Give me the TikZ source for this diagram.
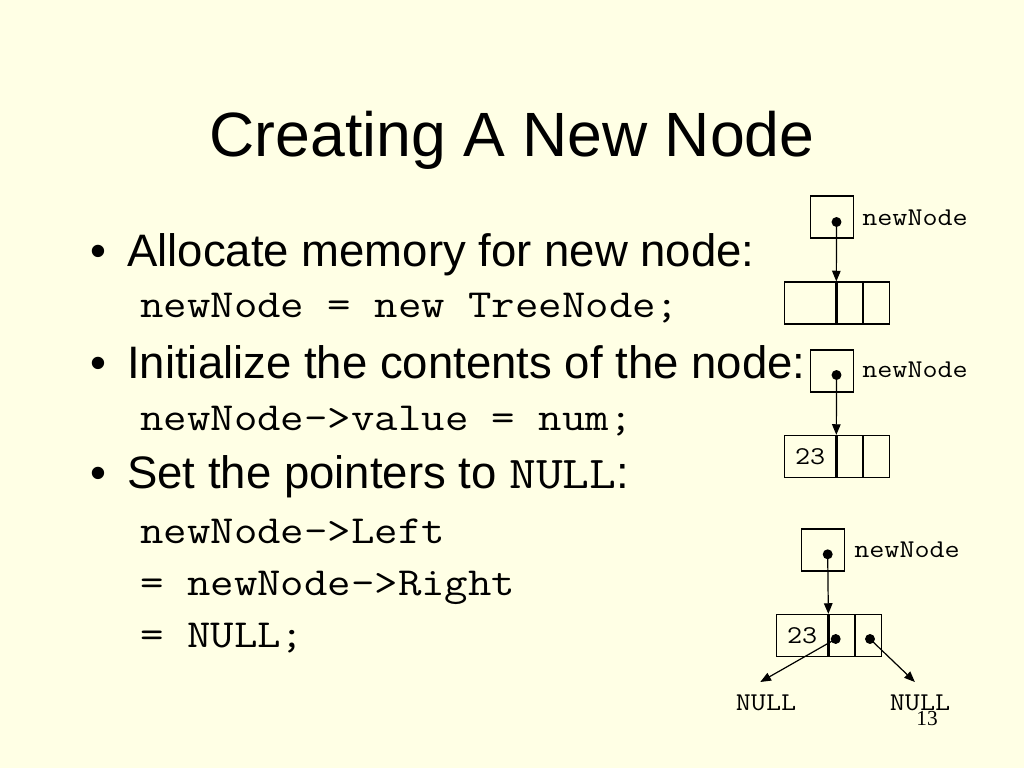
\documentclass[tikz,border=0pt]{standalone}
\usepackage{fontspec}
\setmainfont{Liberation Sans}
\newfontfamily\codefont[FakeStretch=1.143]{Latin Modern Mono}
\newfontfamily\numfont{Liberation Serif}
\usepackage{tikz}
\usetikzlibrary{arrows.meta}
\definecolor{slidebg}{RGB}{255,255,229}
\tikzstyle{ptrbox} = [draw, line width=0.85pt, minimum width=30.2pt, minimum height=29.5pt, inner sep=0pt]
\tikzstyle{bigcell} = [draw, line width=0.85pt, minimum width=35.9pt, minimum height=29.5pt, inner sep=0pt, font=\codefont\fontsize{18}{20}\selectfont]
\tikzstyle{cell} = [draw, line width=0.85pt, minimum width=18pt, minimum height=29.5pt, inner sep=0pt, anchor=west]
\tikzstyle{dot} = [circle, fill=black, minimum size=7pt, inner sep=0pt]
\tikzstyle{arrow} = [line width=0.85pt, -{Triangle[length=7.5pt, width=6pt]}]
\tikzstyle{varname} = [font=\codefont\fontsize{18}{20}\selectfont, inner sep=0pt, anchor=west]
\tikzstyle{heading} = [font=\fontsize{44}{50}\selectfont, anchor=base]
\tikzstyle{bullet} = [font=\fontsize{32}{38}\selectfont, anchor=base west, inner sep=0pt]
\tikzstyle{code} = [font=\codefont\fontsize{28}{32}\selectfont, anchor=base west, inner sep=0pt]

\begin{document}
\begin{tikzpicture}[x=0.703125pt, y=-0.703125pt]
	\fill[slidebg] (0,0) rectangle (1024,768);
	\useasboundingbox (0,0) rectangle (1024,768);

	\node[heading](title) at (512,157){Creating A New Node};

	\node[bullet](m1) at (90,267){•};
	\node[bullet](t1) at (127,267){Allocate memory for new node:};
	\node[code](c1) at (140,317){newNode = new TreeNode;};
	\node[bullet](m2) at (90,378){•};
	\node[bullet](t2) at (127,378){Initialize the contents of the node:};
	\node[code](c2) at (140,430){newNode->value = num;};
	\node[bullet](m3) at (90,488){•};
	\node[bullet](t3) at (127,488){Set the pointers to {\codefont NULL}:};
	\node[code](c3) at (140,543){newNode->Left};
	\node[code](c4) at (140,595){= newNode->Right};
	\node[code](c5) at (140,647){= NULL;};

	\node[ptrbox](p1) at (832,217){};
	\node[dot](d1) at (836.5,222){};
	\node[varname](v1) at (862,218){newNode};
	\node[bigcell](a1) at (810.2,303){};
	\node[cell](b1) at (a1.east){};
	\node[cell](r1) at (b1.east){};
	\draw[arrow](d1.center) -- (a1.north east);

	\node[ptrbox](p2) at (832,371){};
	\node[dot](d2) at (836.5,375){};
	\node[varname](v2) at (862,370){newNode};
	\node[bigcell](a2) at (810.2,456.5){23};
	\node[cell](b2) at (a2.east){};
	\node[cell](r2) at (b2.east){};
	\draw[arrow](d2.center) -- (a2.north east);

	\node[ptrbox](p3) at (823.3,550){};
	\node[dot](d3) at (827.7,554.3){};
	\node[varname](v3) at (854,550){newNode};
	\node[bigcell](a3) at (802.2,635.5){23};
	\node[cell](b3) at (a3.east){};
	\node[cell](r3) at (b3.east){};
	\node[dot](e3) at (835.7,639){};
	\node[dot](f3) at (870,639){};
	\node[varname, anchor=base](n1) at (766,710){NULL};
	\node[varname, anchor=base](n2) at (920,710){NULL};
	\draw[arrow](d3.center) -- (a3.north east);
	\draw[arrow](e3.center) -- ([xshift=-4pt, yshift=8.5pt]n1.north);
	\draw[arrow](f3.center) -- ([xshift=-3.6pt, yshift=8.5pt]n2.north);

	\node[font=\numfont\fontsize{15}{18}\selectfont, anchor=base](num) at (927,725){13};
\end{tikzpicture}
\end{document}
